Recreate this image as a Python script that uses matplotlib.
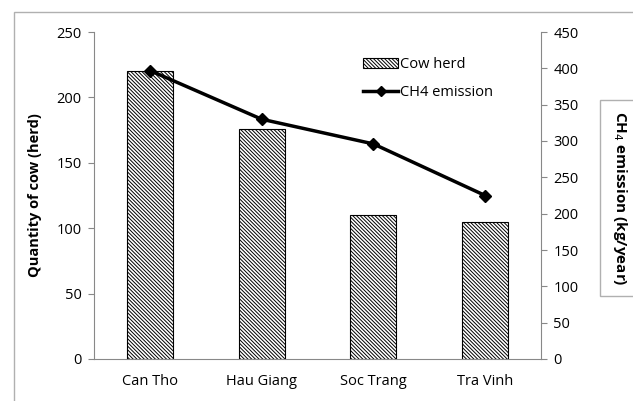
import matplotlib.pyplot as plt
from matplotlib.patches import Rectangle
from matplotlib.lines import Line2D
from matplotlib.patches import Patch

plt.rcParams['font.family'] = ['Open Sans', 'DejaVu Sans']
plt.rcParams['hatch.linewidth'] = 0.7

provinces = ['Can Tho', 'Hau Giang', 'Soc Trang', 'Tra Vinh']
cow_herd = [220, 176, 110, 105]
ch4_emission = [397, 330, 296, 225]

W, H = 633, 401
fig = plt.figure(figsize=(W / 100, H / 100), dpi=100)
fig.patch.set_facecolor('white')

# outer chart frame (Excel style)
fig.patches.append(Rectangle((14 / W, -0.1), 1.0, 1 - 12 / H + 0.1, transform=fig.transFigure,
                             fill=False, edgecolor='#b0b0b0', linewidth=1.0))

hatch = '\\' * 9

ax = fig.add_axes([94 / W, 1 - 359 / H, (541 - 94) / W, (359 - 32) / H])
x = list(range(len(provinces)))
ax.bar(x, cow_herd, width=0.41, color='white', edgecolor='black', hatch=hatch,
       linewidth=0.8, zorder=2)
ax.set_xlim(-0.5, 3.5)
ax.set_ylim(0, 250)
ax.set_yticks(range(0, 251, 50))
ax.set_xticks(x)
ax.set_xticklabels(provinces, fontsize=10.5)
ax.tick_params(axis='x', length=0, pad=11)
ax.tick_params(axis='y', length=4, color='#888888', labelsize=10.5, pad=5)
for s in ['top', 'right']:
    ax.spines[s].set_visible(False)
for s in ['left', 'bottom']:
    ax.spines[s].set_color('#888888')
ax.set_ylabel('Quantity of cow (herd)', fontsize=10.5, fontweight='bold', labelpad=10)

ax2 = ax.twinx()
ax2.plot(x, ch4_emission, color='black', linewidth=2.5, marker='D', markersize=6, zorder=3)
ax2.set_ylim(0, 450)
ax2.set_yticks(range(0, 451, 50))
ax2.tick_params(axis='y', length=4, color='#888888', labelsize=10.5, pad=5)
for s in ['top', 'left', 'bottom']:
    ax2.spines[s].set_visible(False)
ax2.spines['right'].set_color('#888888')

fig.text(620 / W, 1 - 198 / H, 'CH$_4$ emission (kg/year)', rotation=-90, fontsize=11,
         fontweight='bold', ha='center', va='center',
         bbox=dict(boxstyle='square,pad=0.7', facecolor='white', edgecolor='#b0b0b0', linewidth=1))

handles = [Patch(facecolor='white', edgecolor='black', hatch=hatch, linewidth=0.8),
           Line2D([], [], color='black', linewidth=2.5, marker='D', markersize=5)]
fig.legend(handles, ['Cow herd', 'CH4 emission'], loc='upper left',
           bbox_to_anchor=(350 / W, 1 - 44 / H), frameon=False, fontsize=10.5,
           handlelength=2.4, handletextpad=0.1, labelspacing=0.9)

fig.savefig('out.png', dpi=100)
